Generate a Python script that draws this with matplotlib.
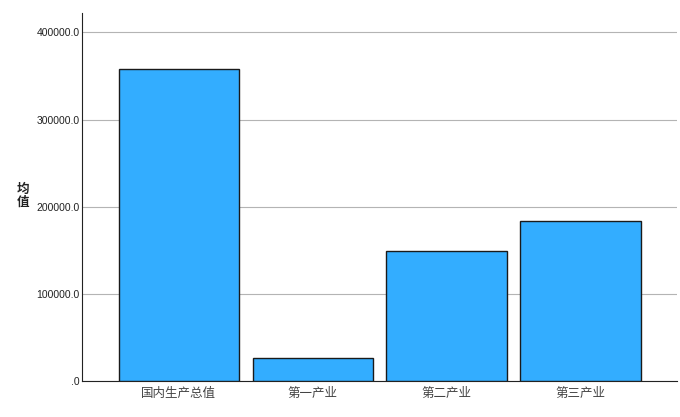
import matplotlib
matplotlib.use('Agg')
import matplotlib.pyplot as plt
from matplotlib.ticker import FuncFormatter

plt.rcParams['font.family'] = ['Noto Sans CJK SC', 'DejaVu Sans']

# data
categories = ['国内生产总值', '第一产业', '第二产业', '第三产业']
means = [357500, 25900, 148500, 183000]
yticks = [0, 100000, 200000, 300000, 400000]

fig = plt.figure(figsize=(6.8, 4.17), dpi=100)
ax = fig.add_axes([0.1213, 0.0875, 0.8743, 0.8813])

x = list(range(len(categories)))
ax.bar(x, means, width=0.9, color='#33adff', edgecolor='#1a1a1a', linewidth=1.0, zorder=3)

ax.set_xlim(-0.72, 3.72)
ax.set_ylim(0, 422400)
ax.set_yticks(yticks)


def fmt(v, pos):
    s = '%.1f' % v
    if s.startswith('0.'):
        s = s[1:]
    return s


ax.yaxis.set_major_formatter(FuncFormatter(fmt))
ax.grid(axis='y', color='#b4b4b4', linewidth=0.8, zorder=0)
ax.set_xticks(x)
ax.set_xticklabels(categories, fontsize=9, color='#444444')
ax.tick_params(axis='y', length=0, labelsize=7.5, pad=2, labelcolor='#222222')
ax.tick_params(axis='x', length=0, pad=5)
for lbl in ax.get_yticklabels():
    lbl.set_family('Liberation Sans')

for s in ['top', 'right']:
    ax.spines[s].set_visible(False)
ax.spines['left'].set_color('#222222')
ax.spines['bottom'].set_color('#222222')

fig.text(0.034, 0.53, '均\n值', fontsize=9, fontweight='bold', ha='center', va='center',
         linespacing=1.0, color='#222222')

fig.savefig('out.png', dpi=100)
